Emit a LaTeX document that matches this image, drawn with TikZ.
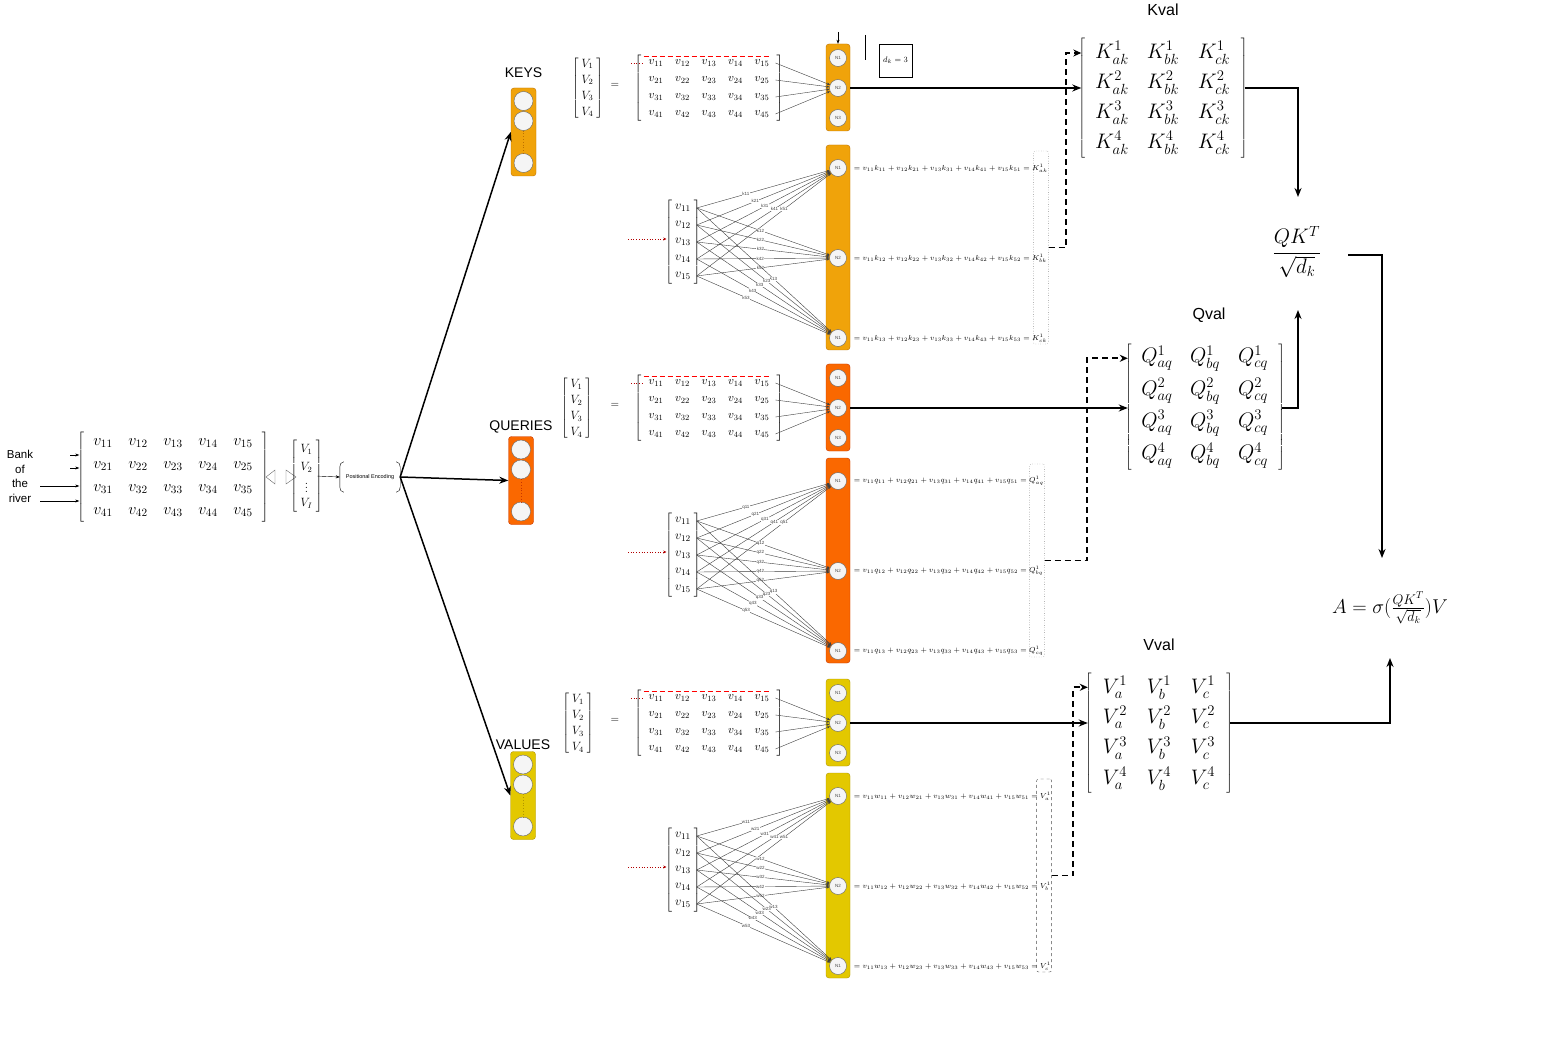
\RequirePackage{fix-cm}
\documentclass[tikz,border=0pt]{standalone}
\usepackage{amsmath}
\usepackage{fontspec}
\setsansfont{Liberation Sans}
\usetikzlibrary{matrix,arrows.meta}

\definecolor{keyfill}{HTML}{F0A30A}
\definecolor{keyline}{HTML}{BD7000}
\definecolor{qryfill}{HTML}{FA6800}
\definecolor{qryline}{HTML}{C73500}
\definecolor{valfill}{HTML}{E3C800}
\definecolor{valline}{HTML}{B09500}
\definecolor{cellfill}{HTML}{F5F5F5}
\definecolor{cellline}{HTML}{666666}
\definecolor{darkred}{HTML}{B20000}
\definecolor{brightred}{HTML}{FF0000}

\begin{document}
\begin{tikzpicture}[x=1pt,y=-1pt,
  lbl/.style={font=\sffamily\fontsize{14}{16}\selectfont},
  block/.style={rounded corners=3pt, minimum width=24, inner sep=0},
  unit/.style={circle, draw=cellline, fill=cellfill, minimum size=19, inner sep=0},
  neuron/.style={circle, draw=cellline, fill=cellfill, minimum size=17, inner sep=0,
    text=black!70, font=\sffamily\fontsize{4.5}{5}\selectfont},
  mat/.style={matrix of math nodes, ampersand replacement=\&, inner sep=0pt,
    left delimiter={[}, right delimiter={]},
    every delimiter/.style={minimum width=0pt, minimum height=0pt}},
  big/.style={line width=1.5pt, -{Stealth[length=9pt,width=7pt]}},
  bigdash/.style={line width=1.8pt, dash pattern=on 6pt off 4pt, -{Stealth[length=8pt,width=7pt]}},
  fanline/.style={black!75, line width=0.4pt, -{Stealth[length=3pt,width=2.5pt]}},
  wlbl/.style={font=\sffamily\fontsize{4.5}{5}\selectfont, fill=white, inner sep=0.3pt},
  eqn/.style={font=\fontsize{7.3}{8.5}\selectfont, inner sep=0},
  reddot/.style={draw=darkred, dotted, line width=0.7pt},
  reddash/.style={draw=brightred, line width=0.9pt, dash pattern=on 5pt off 3pt},
  sumbox/.style={draw=black!70, rounded corners=2pt, minimum width=15, minimum height=193, inner sep=0},
]
\fill[white] (0,0) rectangle (1558,1040);
\useasboundingbox (0,0) rectangle (1558,1040);

% 输入句子
\node[font=\sffamily\fontsize{11.5}{14.5}\selectfont, align=center] (bank) at (20,476.5) {Bank\\of\\the\\river};
\matrix (in) [mat, nodes={font=\fontsize{16}{19}\selectfont, minimum width=35, minimum height=23, inner sep=0}] at (173,477.5) {
  v_{11} \& v_{12} \& v_{13} \& v_{14} \& v_{15}\\
  v_{21} \& v_{22} \& v_{23} \& v_{24} \& v_{25}\\
  v_{31} \& v_{32} \& v_{33} \& v_{34} \& v_{35}\\
  v_{41} \& v_{42} \& v_{43} \& v_{44} \& v_{45}\\
};
\coordinate (w1) at (70,455);
\coordinate (w2) at (70,468);
\coordinate (w3) at (40,486);
\coordinate (w4) at (40,501);
\foreach \i in {1,...,4}
  \draw[-{Stealth[length=4pt,width=3pt]}, shorten >=6pt] (w\i) -- (w\i -| in.west);
\draw[black!60] (275,470) -- (266,477) -- (275,484) -- cycle;
\draw[black!60] (286,470) -- (296,477) -- (286,484) -- cycle;
\matrix (iv) [mat, nodes={font=\fontsize{12}{14}\selectfont, minimum width=16, minimum height=18, inner sep=0}] at (306.5,476) {
  V_1\\ V_2\\ \vdots\\ V_I\\
};

% 位置编码
\node[font=\sffamily\fontsize{5.5}{6}\selectfont, minimum width=60, minimum height=30, inner sep=0] (pe) at (370,477) {Positional Encoding};
\draw ([xshift=4pt]pe.north west) to[out=180,in=90] ([yshift=-5pt]pe.north west) -- ([yshift=5pt]pe.south west) to[out=-90,in=180] ([xshift=4pt]pe.south west);
\draw ([xshift=-4pt]pe.north east) to[out=0,in=90] ([yshift=-5pt]pe.north east) -- ([yshift=5pt]pe.south east) to[out=-90,in=0] ([xshift=-4pt]pe.south east);
\draw[-{Stealth[length=4pt,width=3pt]}, shorten <=3pt] (iv.east) -- (pe.west);

% KEYS / QUERIES / VALUES
\foreach \nm/\txt/\x/\y/\ly/\col in {keys/KEYS/523.5/132/73/key, qrys/QUERIES/521/480.5/427/qry, vals/VALUES/523/795.5/745/val}{
  \node[block, minimum width=25, minimum height=88, fill=\col fill, draw=\col line] (\nm) at (\x,\y) {};
  \node[lbl] (\nm-lbl) at (\x,\ly) {\txt};
  \node[unit] (\nm-1) at (\x,\y-31) {};
  \node[unit] (\nm-2) at (\x,\y-11) {};
  \node[unit] (\nm-3) at (\x,\y+31) {};
  \draw[\col line, dotted, line width=0.8pt] (\nm-2) -- (\nm-3);
  \draw[big] (pe.east) -- (\nm.west);
}

% 三个分支
\foreach \s/\dy/\fy/\vx/\w/\R/\sub/\col/\bs in
  {k/0/0/587.5/k/K/k/key/dotted, q/320/313/576.5/q/Q/q/qry/dotted, v/635/628/578/w/V/{}/val/dashed}{
  % 上：V = 矩阵
  \matrix (\s-vec) [mat, nodes={font=\fontsize{12}{14}\selectfont, minimum width=15, minimum height=16, inner sep=0}] at (\vx,88+\dy) {
    V_1\\ V_2\\ V_3\\ V_4\\
  };
  \node[font=\fontsize{11}{13}\selectfont] (\s-eq) at (615,85+\dy) {$=$};
  \matrix (\s-m) [mat, nodes={font=\fontsize{11.5}{13}\selectfont, minimum width=26.5, minimum height=17, inner sep=0}] at (709,88.5+\dy) {
    v_{11} \& v_{12} \& v_{13} \& v_{14} \& v_{15}\\
    v_{21} \& v_{22} \& v_{23} \& v_{24} \& v_{25}\\
    v_{31} \& v_{32} \& v_{33} \& v_{34} \& v_{35}\\
    v_{41} \& v_{42} \& v_{43} \& v_{44} \& v_{45}\\
  };
  \draw[reddash] ([xshift=1pt,yshift=-2pt]\s-m.north west) -- ([xshift=-6pt,yshift=-2pt]\s-m.north east);
  \coordinate (\s-r) at (631,63+\dy);
  \draw[reddot] (\s-r) -- (\s-r -| \s-m.west);
  \node[block, minimum height=87, fill=\col fill, draw=\col line] (\s-top) at (838,87.5+\dy) {};
  \foreach \nn/\yy in {1/58,2/88,3/118}
    \node[neuron] (\s-t\nn) at (838,\yy+\dy) {N\nn};
  \foreach \rr in {1,...,4}
    \draw[fanline] (\s-m-\rr-5.east) -- (\s-t2);

  % 下：全连接
  \node[block, minimum height=205, fill=\col fill, draw=\col line] (\s-fan) at (838,247.5+\fy) {};
  \foreach \nn/\yy/\nlab in {1/168/N1,2/258/N2,3/338/N1}
    \node[neuron] (\s-f\nn) at (838,\yy+\fy) {\nlab};
  \matrix (\s-v) [mat, nodes={font=\fontsize{12.5}{14}\selectfont, minimum width=19, minimum height=17, inner sep=0}] at (683,242+\fy) {
    v_{11}\\ v_{12}\\ v_{13}\\ v_{14}\\ v_{15}\\
  };
  \coordinate (\s-in) at (628,239+\fy);
  \draw[reddot, -{Stealth[length=3pt,width=3pt]}, shorten >=7pt] (\s-in) -- (\s-in -| \s-v.west);
  \foreach \jj in {1,...,5}
    \coordinate (\s-p\jj) at ([xshift=4pt]\s-v-\jj-1.east);
  \foreach \nn/\pp/\dd in {1/0.30/0.07, 2/0.48/0, 3/0.62/-0.05}
    \foreach \jj in {1,...,5}
      \draw[fanline] (\s-p\jj) -- node[wlbl, pos={\pp+(\dd)*\jj}] {\w\jj\nn} (\s-f\nn);
  \foreach \nn/\lab in {1/a,2/b,3/c}
    \node[eqn, anchor=west] (\s-e\nn) at ([xshift=7pt]\s-f\nn.east)
      {$= v_{11}\w_{1\nn} + v_{12}\w_{2\nn} + v_{13}\w_{3\nn} + v_{14}\w_{4\nn} + v_{15}\w_{5\nn} = \R^1_{\lab\sub}$};
  \path ([xshift=-7pt]\s-e1.east) coordinate (\s-bx);
  \node[sumbox, \bs] (\s-box) at (\s-bx |- \s-fan) {};
}

% d_k
\coordinate (kdrop) at (838,32);
\draw[-{Stealth[length=4pt,width=3pt]}] (kdrop) -- (k-top.north);
\coordinate (ktick) at (865,35);
\draw (ktick) -- ++(0,25);
\node[draw, minimum width=33, minimum height=33, inner sep=0, font=\fontsize{8}{9}\selectfont] (dk) at (895.5,60.5) {$d_k = 3$};

% Kval Qval Vval
\node[lbl, font=\sffamily\fontsize{16}{18}\selectfont] (kval-t) at (1163,10) {Kval};
\matrix (kval) [mat, nodes={font=\fontsize{21}{24}\selectfont, minimum width=51, minimum height=30, inner sep=0}] at (1163,98) {
  K^1_{ak} \& K^1_{bk} \& K^1_{ck}\\
  K^2_{ak} \& K^2_{bk} \& K^2_{ck}\\
  K^3_{ak} \& K^3_{bk} \& K^3_{ck}\\
  K^4_{ak} \& K^4_{bk} \& K^4_{ck}\\
};
\node[lbl, font=\sffamily\fontsize{16}{18}\selectfont] (qval-t) at (1209,315) {Qval};
\matrix (qval) [mat, nodes={font=\fontsize{21}{24}\selectfont, minimum width=48, minimum height=32, inner sep=0}] at (1205,407) {
  Q^1_{aq} \& Q^1_{bq} \& Q^1_{cq}\\
  Q^2_{aq} \& Q^2_{bq} \& Q^2_{cq}\\
  Q^3_{aq} \& Q^3_{bq} \& Q^3_{cq}\\
  Q^4_{aq} \& Q^4_{bq} \& Q^4_{cq}\\
};
\node[lbl, font=\sffamily\fontsize{16}{18}\selectfont] (vval-t) at (1159,645) {Vval};
\matrix (vval) [mat, nodes={font=\fontsize{21}{24}\selectfont, minimum width=44, minimum height=30, inner sep=0}] at (1159,733) {
  V^1_{a} \& V^1_{b} \& V^1_{c}\\
  V^2_{a} \& V^2_{b} \& V^2_{c}\\
  V^3_{a} \& V^3_{b} \& V^3_{c}\\
  V^4_{a} \& V^4_{b} \& V^4_{c}\\
};
\coordinate (kval-in) at ([xshift=-5pt]kval.west);
\coordinate (kval-out) at ([xshift=5pt]kval.east);
\coordinate (qval-in) at ([xshift=-5pt]qval.west);
\coordinate (qval-out) at ([xshift=5pt]qval.east);
\coordinate (vval-in) at ([xshift=-5pt]vval.west);
\coordinate (vval-out) at ([xshift=5pt]vval.east);

\draw[big] (k-top.east |- k-t2) -- (k-t2 -| kval-in);
\draw[big] (q-top.east |- q-t2) -- (q-t2 -| qval-in);
\draw[big] (v-top.east |- v-t2) -- (v-t2 -| vval-in);

\coordinate (kturn) at (1066,0);
\coordinate (qturn) at (1087,0);
\coordinate (vturn) at (1073,0);
\draw[bigdash] (k-box.east) -- (k-box.east -| kturn) |- (kval-1-1 -| kval-in);
\draw[bigdash] (q-box.east) -- (q-box.east -| qturn) |- (qval-1-1 -| qval-in);
\draw[bigdash] (v-box.east) -- (v-box.east -| vturn) |- (vval-1-1 -| vval-in);

% 注意力
\node[font=\fontsize{21}{24}\selectfont] (qk) at (1297,252) {$\dfrac{QK^T}{\sqrt{d_k}}$};
\node[font=\fontsize{20}{24}\selectfont] (att) at (1390,608) {$A = \sigma(\frac{QK^T}{\sqrt{d_k}})V$};
\coordinate (qk-top) at (1298,197);
\coordinate (qk-bot) at (1298,310);
\coordinate (qk-out) at (1348,255);
\coordinate (att-top) at (1382,558);
\coordinate (att-bot) at (1390,658);
\draw[big] (kval-out |- k-t2) -| (qk-top);
\draw[big] (qval-out |- q-t2) -| (qk-bot);
\draw[big] (qk-out) -| (att-top);
\draw[big] (vval-out |- v-t2) -| (att-bot);

\end{tikzpicture}
\end{document}
